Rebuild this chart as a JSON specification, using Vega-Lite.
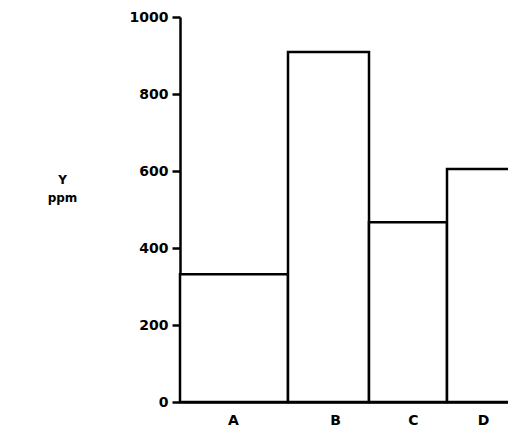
{
  "$schema": "https://vega.github.io/schema/vega-lite/v6.json",
  "width": 340,
  "height": 385,
  "autosize": {"type": "none"},
  "padding": {"left": 180, "top": 17, "right": 0, "bottom": 34},
  "background": "white",
  "config": {"view": {"stroke": null}},
  "data": {"values": [
    {"group": "A", "start": 0, "end": 108, "ppm": 332},
    {"group": "B", "start": 108, "end": 189, "ppm": 909},
    {"group": "C", "start": 189, "end": 267, "ppm": 467},
    {"group": "D", "start": 267, "end": 345, "ppm": 605}
  ]},
  "mark": {"type": "bar", "fill": "white", "stroke": "black", "strokeWidth": 2.5, "clip": false},
  "encoding": {
    "x": {
      "field": "start", "type": "quantitative",
      "scale": {"domain": [0, 340], "nice": false, "zero": false},
      "axis": {
        "values": [53, 155, 233, 303],
        "labelExpr": "datum.value < 100 ? 'A' : datum.value < 190 ? 'B' : datum.value < 260 ? 'C' : 'D'",
        "ticks": false, "grid": false, "title": null,
        "domainColor": "black", "domainWidth": 2.5,
        "labelFont": "DejaVu Sans", "labelFontWeight": "bold", "labelFontSize": 14,
        "labelColor": "black", "labelPadding": 11
      }
    },
    "x2": {"field": "end"},
    "y": {
      "field": "ppm", "type": "quantitative",
      "scale": {"domain": [0, 1000], "nice": false},
      "axis": {
        "values": [0, 200, 400, 600, 800, 1000],
        "format": "d",
        "grid": false,
        "domainColor": "black", "domainWidth": 2.5,
        "tickColor": "black", "tickWidth": 2.5, "tickSize": 8,
        "labelFont": "DejaVu Sans", "labelFontWeight": "bold", "labelFontSize": 14,
        "labelColor": "black", "labelPadding": 4,
        "title": ["Y", "ppm"],
        "titleAngle": 0, "titleFont": "DejaVu Sans", "titleFontWeight": "bold",
        "titleFontSize": 12, "titleColor": "black",
        "titleX": -118, "titleY": 157, "titleAlign": "center", "titleBaseline": "top",
        "titleLineHeight": 18
      }
    },
    "y2": {"datum": 0}
  }
}
